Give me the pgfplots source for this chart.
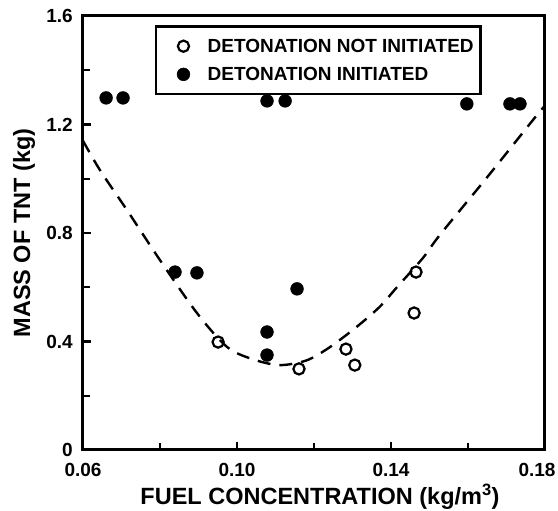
\documentclass[border=0pt]{standalone}
\usepackage{fontspec}
\setmainfont{Liberation Sans}
\usepackage{pgfplots}
\pgfplotsset{compat=1.18}

% Trials that did not detonate
\pgfplotstableread{
x       y
0.0951  0.398
0.1161  0.299
0.1283  0.372
0.1306  0.313
0.1460  0.505
0.1465  0.656
}\notinitiated

% Trials that detonated
\pgfplotstableread{
x       y
0.0660  1.298
0.0704  1.298
0.1078  1.287
0.1125  1.287
0.1597  1.276
0.1709  1.276
0.1735  1.276
0.0839  0.656
0.0896  0.653
0.1078  0.435
0.1078  0.350
0.1156  0.594
}\initiated

% Boundary between the two regimes
\pgfplotstableread{
x       y
0.0600  1.140
0.0644  1.032
0.0714  0.885
0.0800  0.700
0.0896  0.505
0.0974  0.380
0.1040  0.335
0.1110  0.313
0.1180  0.330
0.1240  0.378
0.1310  0.453
0.1370  0.527
0.1416  0.601
0.1483  0.708
0.1527  0.793
0.1650  1.006
0.1769  1.217
0.1800  1.270
}\boundary

\begin{document}
\begin{tikzpicture}
\begin{axis}[
  at={(0pt,0pt)}, anchor=south west,
  scale only axis, width=462pt, height=434pt,
  xmin=0.06, xmax=0.18, ymin=0, ymax=1.6,
  xtick={0.06,0.10,0.14,0.18},
  xticklabels={0.06,0.10,0.14,\hspace*{-16pt}0.18},
  minor xtick={0.08,0.12,0.16},
  ytick={0,0.4,0.8,1.2,1.6}, yticklabels={0,0.4,0.8,1.2,1.6},
  minor ytick={0.2,0.6,1.0,1.4},
  tick pos=left, tick align=inside,
  major tick length=8pt, minor tick length=7pt,
  tick style={black, line width=2.2pt},
  axis line style={line width=3pt},
  xticklabel style={font=\fontsize{19}{21}\selectfont\bfseries, inner sep=0pt, yshift=-13pt},
  yticklabel style={font=\fontsize{19}{21}\selectfont\bfseries, inner sep=0pt, xshift=-10pt},
  xlabel={FUEL CONCENTRATION (kg/m\textsuperscript{3})},
  ylabel={MASS OF TNT (kg)},
  xlabel style={at={(axis description cs:0.513,-0.1267)}, anchor=base, inner sep=0pt,
                font=\fontsize{23.5}{26}\selectfont\bfseries},
  ylabel style={at={(axis description cs:-0.1277,0.5)}, anchor=center, inner sep=0pt,
                font=\fontsize{23.5}{26}\selectfont\bfseries},
  legend style={at={(axis description cs:0.156,0.979)}, anchor=north west,
                draw=black, fill=white, line width=2.4pt,
                inner xsep=5pt, inner ysep=10.5pt, row sep=9.4pt,
                font=\fontsize{19}{21}\selectfont\bfseries,
                cells={anchor=west, inner sep=0pt}},
  legend image code/.code={%
    \path (-21pt,0pt) (21pt,0pt);
    \draw[mark repeat=1,#1] plot coordinates {(0pt,0pt)};},
]
\addplot[forget plot, black, line width=2.4pt, dash pattern=on 13pt off 9pt,
         smooth, tension=0.5] table {\boundary};
\addplot[only marks, mark=o, mark size=5.6pt,
         mark options={black, line width=2.2pt}] table {\notinitiated};
\addlegendentry{DETONATION NOT INITIATED}
\addplot[only marks, mark=*, mark size=6.4pt,
         mark options={black, fill=black, line width=0.5pt}] table {\initiated};
\addlegendentry{DETONATION INITIATED}
\end{axis}
\pgfresetboundingbox
\useasboundingbox (-83pt,-61pt) rectangle (475pt,450pt);
\end{tikzpicture}
\end{document}
